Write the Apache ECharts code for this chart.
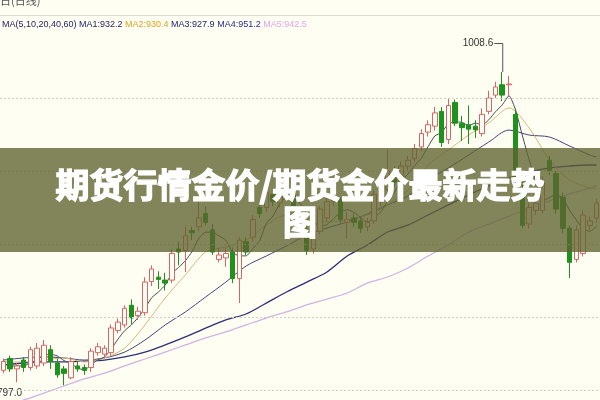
<!DOCTYPE html>
<html><head><meta charset="utf-8">
<script src="https://cdn.jsdelivr.net/npm/echarts@6/dist/echarts.min.js"></script>
<style>html,body{margin:0;padding:0;background:#fefef2;}#c{width:600px;height:400px;}</style>
</head><body><div id="c"></div>
<script>
// ---- data ----
const opens  = [807,815,808,814,809,810,812,821,812,808, 802,810,809,809,819,818,819,834,837.7,851, 844,846,867,870,868,868,889,888,901.5,904, 913,902,882,883,887,869,894,897,917,917, 926,920,927,930,914,900,889,901,910,921, 922,907,910,908,904,908,921,929,942,934, 945,950,958,968,972,982,963,988,974,973, 972,967,982,993,1000,1000,980,925,906,915, 915,949,940,924,903,882,886,905,910];
const closes = [813,808,810,809,821,822,824,813,804,805, 813,808,807,820,823,822,835.7,839.6,849,842.5, 847,866.7,875.5,868.5,866,886,887,898,900,910, 907,887,885,886,869,895,887,909,913,927, 921,928,932,915,903,888,900,916,921,923, 909,909,907,903,907,926,928,942,934,945, 949,957,967,973,981,961,986,974,971,970, 969.5,980,991,998.5,993,1000.5,930,905,917,920, 935,942,916,903,880,902,912,908,920];
const lows   = [805,806,799,806,807,808,810,808,802,797, 801,806,804,806,817,816,817,832,836,838, 841,844,864,862,861,866,878,873.5,895,901, 905,885,880,877,866,852.5,885,894,910,914, 918,917,924,912,900,885,886,899,908,918, 906,896,904,900,901,906,918,926,931,932, 942,948,955,965,969,958,960,972,962,960, 964,965,980,991,989,992,928,903,903,912, 913,939,913,900,869.4,880,884,902,907];
const highs  = [815,817,812,816,823,825.5,827.5,824,815,810, 816,813,811,822,825.5,824,838,842,851,855, 850,870,878,874,873,889,894,904,904,921, 918,906,890,890,890,897,897,912,920,935, 930,932,936,933,917,904,903,918,924,926, 924,914,913,911,910,929,931,956,945,948, 952,960,970,976,985,985,991,990,979,986, 976,984,996,1002,1008.6,1006,984,935,920,923, 938,952,942,927,905,905,915,911,923];

// moving averages as read (5-day every day; others sampled [day, value])
const ma1 = [812,810,810,810,812.2,814,817.2,817.8,816.8,813.6, 811.8,808.6,807.4,810.6,814.2,816,821.5,828.1,833.9,837.8, 842.8,849,856.1,860,864.7,872.5,876.6,881.1,887.4,896.2, 900.4,900.4,897.8,895,886.8,884.4,884.4,889.2,894.6,906.2, 911.4,919.6,924.2,924.6,919.8,913.2,907.6,904.4,905.6,909.6, 913.8,915.6,913.8,910.2,907,910.4,914.2,921.2,927.4,935, 939.6,945.4,950.4,958.2,965.4,967.8,973.6,975,974.6,972.4, 974.1,972.9,976.3,981.8,986.4,992.6,982.6,965.4,949.1,934.5, 921.4,923.8,926,923.2,915.2,908.6,902.6,901,904.4];
const ma2 = [[0,812.7],[3,812.7],[6,814],[9,815.4],[12,812.7],[15,815.4],[18,822.1],[21,837.7],[24,855.9],[27,871.5],[30,887],[33,890.4],[36,895.1],[39,905.2],[42,912],[45,910],[48,907.3],[51,908.6],[54,912],[57,918.8],[60,928.9],[63,945.8],[66,955.9],[69,966],[72,974.2],[75,984.3],[78,970.8],[81,949.2],[84,935.6],[87,930.2],[88,929.6]];
const ma3 = [[0,814],[3,815.4],[6,816.1],[9,815.4],[12,814],[15,815.4],[18,819.4],[21,827.5],[24,837.7],[27,846.5],[30,856.6],[33,866.7],[36,877.5],[39,884.3],[42,891.1],[45,898.5],[48,903.2],[51,907.3],[54,912.7],[57,918.8],[60,924.8],[63,935.6],[66,943.8],[69,952.5],[72,961.3],[75,969.4],[78,966],[81,964.7],[84,958.6],[87,952.5],[88,951.2]];
const ma4 = [[0,810.6],[3,812],[6,812.7],[9,812.7],[12,813.3],[15,814],[18,816.1],[21,819.4],[24,824.2],[27,829.6],[30,835.6],[33,841.1],[36,845.1],[39,852.5],[42,860],[45,866.7],[48,873.5],[51,884.3],[54,891.7],[57,900.5],[60,905.2],[63,912],[66,918.8],[69,925.5],[72,931.6],[75,937],[78,941],[81,943.8],[84,945.1],[87,945.8],[88,945.8]];
const ma5 = [[0,783],[3,787],[6,791.7],[9,796.5],[12,801.2],[15,805.2],[18,810],[21,814.7],[24,819.4],[27,824.2],[30,828.9],[33,833],[36,837.7],[39,842.4],[42,846.5],[45,851.2],[48,855.2],[51,859.3],[54,866],[57,870.1],[60,876.2],[63,884.3],[66,891.7],[69,900.5],[72,905.9],[75,911.3],[78,916.7],[81,921.5],[84,926.2],[87,930.2],[88,931.6]];

const gridLevels = [991.05, 941.7, 892.4, 843.1, 793.7];
const maNames = ['MA1','MA2','MA3','MA4','MA5'];
const maLegendValues = ['932.2','930.4','927.9','951.2','942.5'];
const legendHead = 'MA(5,10,20,40,60)';
const headerText = '日(日线)';
const titleText = '期货行情金价/期货金价最新走势\n图';

// ---- chart ----
const days = closes.map((_, i) => String(i + 1));
const kdata = opens.map((o, i) => [o, closes[i], lows[i], highs[i]]);
const maColors = ['#4a4a5a', '#d9b878', '#44457e', '#2e2e78', '#d2b2e2'];
const bg = '#fefef2';

const chart = echarts.init(document.getElementById('c'));
const option = {
  backgroundColor: bg,
  animation: false,
  grid: { left: -1.5, right: 0, top: 30, bottom: 0 },
  xAxis: { type: 'category', data: days, show: false, boundaryGap: true },
  yAxis: { type: 'value', min: 787, max: 1037, show: false, splitLine: { show: false } },
  series: [
    { type: 'line', data: [], silent: true, z: 0,
      markLine: { silent: true, symbol: 'none', label: { show: false },
        lineStyle: { type: [2, 2], color: '#cfcfc4', width: 1 },
        data: gridLevels.map(v => ({ yAxis: v })) } },
    { type: 'line', name: 'MA5', data: ma5, showSymbol: false, smooth: 0.3, z: 1, lineStyle: { width: 1.3, color: maColors[4] } },
    { type: 'line', name: 'MA4', data: ma4, showSymbol: false, smooth: 0.3, z: 1, lineStyle: { width: 1.3, color: maColors[3] } },
    { type: 'line', name: 'MA3', data: ma3, showSymbol: false, smooth: 0.3, z: 1, lineStyle: { width: 1, color: maColors[2] } },
    { type: 'line', name: 'MA2', data: ma2, showSymbol: false, smooth: 0.3, z: 1, lineStyle: { width: 1, color: maColors[1] } },
    { type: 'line', name: 'MA1', data: ma1, showSymbol: false, smooth: 0.2, z: 1, lineStyle: { width: 1, color: maColors[0] } },
    { type: 'candlestick', data: kdata, barWidth: 5, z: 3,
      itemStyle: { color: bg, color0: '#1d921d', borderColor: '#d66666', borderColor0: '#1d921d', borderWidth: 1 } }
  ]
};
chart.setOption(option);

const maxIdx = highs.indexOf(Math.max(...highs));
const minIdx = lows.indexOf(Math.min(...lows));
const [mx, my] = chart.convertToPixel({ gridIndex: 0 }, [maxIdx, highs[maxIdx]]);

const rich = { h: { fill: '#1e1e5e', fontSize: 9 } };
const richColors = ['#1e1e5e', '#e0a020', '#1e1e6e', '#2c2c8c', '#e8a0e8'];
let legendStr = '{h|' + legendHead + '}';
maNames.forEach((n, i) => {
  rich['m' + i] = { fill: richColors[i], fontSize: 9 };
  legendStr += ' {m' + i + '|' + n + ':' + maLegendValues[i] + '}';
});

chart.setOption({
  graphic: [
    { type: 'line', silent: true, shape: { x1: 0, y1: 15.5, x2: 600, y2: 15.5 }, style: { stroke: '#dcdcd2', lineWidth: 1 } },
    { type: 'text', silent: true, x: 0, y: 1, style: { text: headerText, fontSize: 11, fill: '#555', verticalAlign: 'middle', fontFamily: 'Noto Sans CJK SC' } },
    { type: 'text', silent: true, x: 2, y: 25, style: { text: legendStr, rich: rich, fontSize: 9, fontFamily: 'Liberation Sans', verticalAlign: 'middle' } },
    { type: 'text', silent: true, x: mx - 9, y: 43, style: { text: highs[maxIdx].toFixed(1), fontSize: 10, fill: '#333', align: 'right', verticalAlign: 'middle', fontFamily: 'Liberation Sans' } },
    { type: 'polyline', silent: true, shape: { points: [[mx - 8, 43.5], [mx + 0.5, 43.5], [mx + 0.5, my]] }, style: { stroke: '#555', lineWidth: 1, fill: null } },
    { type: 'text', silent: true, x: -3, y: 393, style: { text: lows[minIdx].toFixed(1), fontSize: 10, fill: '#333', verticalAlign: 'middle', fontFamily: 'Liberation Sans' } },
    { type: 'rect', silent: true, z: 100, shape: { x: 0, y: 148, width: 600, height: 104 }, style: { fill: 'rgba(95,99,48,0.78)' } },
    { type: 'text', silent: true, z: 101, x: 300, y: 204, style: { text: titleText, fontSize: 34, fontWeight: 'bold', fill: '#ffffff', stroke: '#ffffff', lineWidth: 1.4, align: 'center', verticalAlign: 'middle', lineHeight: 37, fontFamily: 'Noto Sans CJK SC' } }
  ]
});
</script></body></html>
